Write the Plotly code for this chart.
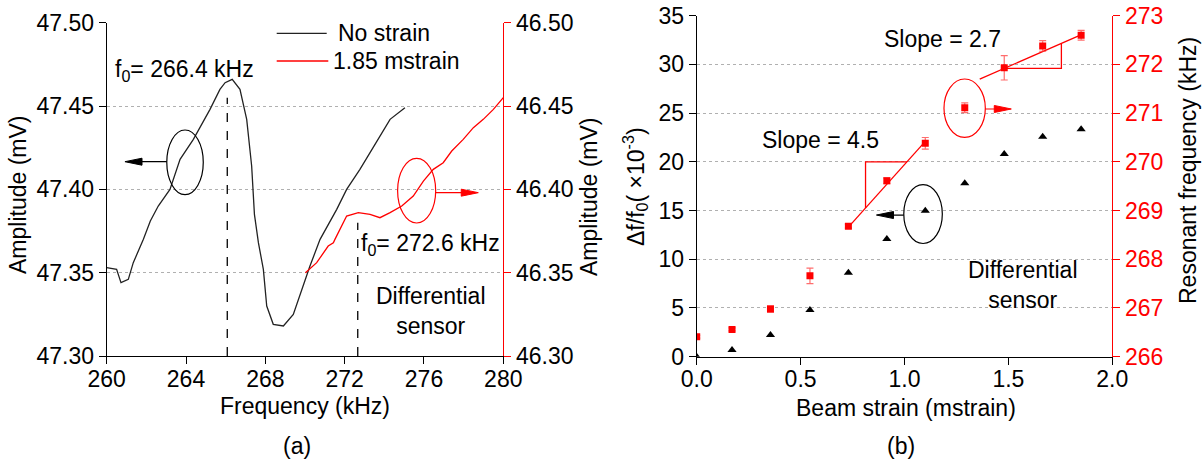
import plotly.graph_objects as go

# ---------------- Panel (a) data ----------------
nostrain_f = [260.0, 260.5, 260.72, 261.09, 261.34, 261.85, 262.2, 262.6, 263.19, 263.7, 264.37,
              265.21, 265.71, 265.97, 266.33, 266.72, 267.06, 267.31, 267.45, 267.65, 267.9,
              268.07, 268.4, 268.91, 269.41, 269.75, 270.25, 270.76, 271.26, 271.6, 272.1,
              272.77, 273.28, 273.78, 274.29, 275.04]
nostrain_a = [47.353, 47.352, 47.344, 47.346, 47.356, 47.370, 47.381, 47.390, 47.400, 47.418, 47.430,
              47.448, 47.460, 47.464, 47.466, 47.460, 47.442, 47.414, 47.385, 47.368, 47.352,
              47.330, 47.319, 47.318, 47.325, 47.337, 47.354, 47.370, 47.381, 47.388, 47.400,
              47.412, 47.422, 47.432, 47.442, 47.449]

strain_f = [270.02, 270.59, 271.17, 271.43, 271.51, 271.85, 272.1, 272.69, 273.28, 273.78, 274.29,
            274.88, 275.46, 275.97, 276.47, 276.97, 277.4, 277.98, 278.49, 278.99, 279.5, 280.0]
strain_a = [46.350, 46.356, 46.366, 46.368, 46.370, 46.378, 46.384, 46.386, 46.385, 46.383, 46.386,
            46.390, 46.396, 46.405, 46.412, 46.416, 46.423, 46.430, 46.437, 46.442, 46.448, 46.455]

# ---------------- Panel (b) data ----------------
beam_strain = [0, 0.17, 0.355, 0.545, 0.73, 0.915, 1.10, 1.29, 1.48, 1.665, 1.85]
dff = [0, 0.69, 2.23, 4.79, 8.62, 12.08, 14.99, 17.8, 20.8, 22.58, 23.34]
res_freq = [266.41, 266.56, 266.98, 267.66, 268.68, 269.61, 270.38, 271.11, 271.93, 272.38, 272.60]
res_err = [0.03, 0.03, 0.065, 0.16, 0.04, 0.06, 0.12, 0.10, 0.25, 0.11, 0.10]

fit1_x = [0.73, 1.10]
fit1_y = [268.66, 270.42]
fit2_x = [1.362, 1.846]
fit2_y = [271.70, 272.60]
tri1_x = [0.8125, 0.8125, 1.0117]
tri1_y = [269.05, 270.0, 270.0]
tri2_x = [1.479, 1.755, 1.755]
tri2_y = [271.92, 271.92, 272.43]

xticks_a = [260, 264, 268, 272, 276, 280]
FONT = "Liberation Sans, Arial, sans-serif"
FS = 23
RED = "#ff0000"

fig = go.Figure()

fig.add_trace(go.Scatter(x=nostrain_f, y=nostrain_a, mode="lines",
                         line=dict(color="#222222", width=1.3), xaxis="x", yaxis="y"))
fig.add_trace(go.Scatter(x=strain_f, y=strain_a, mode="lines",
                         line=dict(color=RED, width=1.3), xaxis="x", yaxis="y2"))

fig.add_trace(go.Scatter(x=beam_strain, y=dff, mode="markers",
                         marker=dict(symbol="triangle-up", size=8, color="black"),
                         xaxis="x3", yaxis="y3"))
fig.add_trace(go.Scatter(x=fit1_x, y=fit1_y, mode="lines", line=dict(color=RED, width=1.3),
                         xaxis="x3", yaxis="y4"))
fig.add_trace(go.Scatter(x=fit2_x, y=fit2_y, mode="lines", line=dict(color=RED, width=1.3),
                         xaxis="x3", yaxis="y4"))
fig.add_trace(go.Scatter(x=tri1_x, y=tri1_y, mode="lines", line=dict(color=RED, width=1.3),
                         xaxis="x3", yaxis="y4"))
fig.add_trace(go.Scatter(x=tri2_x, y=tri2_y, mode="lines", line=dict(color=RED, width=1.3),
                         xaxis="x3", yaxis="y4"))
fig.add_trace(go.Scatter(x=beam_strain, y=res_freq, mode="markers",
                         marker=dict(symbol="square", size=7, color=RED),
                         error_y=dict(type="data", array=res_err, color="rgba(255,60,60,0.75)",
                                      thickness=1.2, width=3.5),
                         xaxis="x3", yaxis="y4"))

axis_common = dict(showline=True, linewidth=1.2, ticks="outside", ticklen=7, tickwidth=1.2,
                   zeroline=False, automargin=False,
                   tickfont=dict(family=FONT, size=FS, color="black"))

W, H = 1202, 463
def px(x):
    return x / W
def py(y):
    return 1 - y / H

fig.update_layout(
    width=W, height=H, margin=dict(l=0, r=0, t=0, b=0, pad=0, autoexpand=False),
    paper_bgcolor="white", plot_bgcolor="white", showlegend=False,
    font=dict(family=FONT, size=FS, color="black"),
    xaxis=dict(domain=[px(106.7), px(503.3)], range=[260, 280], tickvals=xticks_a,
               anchor="y", linecolor="black", tickcolor="black", showgrid=False,
               ticklabelstandoff=-5, **axis_common),
    yaxis=dict(domain=[py(356), py(22.7)], range=[47.30, 47.50], dtick=0.05, tickformat=".2f",
               anchor="x", linecolor="black", tickcolor="black",
               showgrid=True, gridcolor="#b0b0b0", griddash="dot", gridwidth=1, **axis_common),
    yaxis2=dict(overlaying="y", side="right", anchor="x", range=[46.30, 46.50], dtick=0.05,
                tickformat=".2f", linecolor=RED, tickcolor=RED, showgrid=False, **axis_common),
    xaxis3=dict(domain=[px(696.7), px(1112.3)], range=[0, 2.0], dtick=0.5, tickformat=".1f",
                anchor="y3", linecolor="black", tickcolor="black", showgrid=False,
                ticklabelstandoff=-5, **axis_common),
    yaxis3=dict(domain=[py(356.7), py(15.7)], range=[0, 35], dtick=5, anchor="x3",
                linecolor="black", tickcolor="black",
                showgrid=True, gridcolor="#b0b0b0", griddash="dot", gridwidth=1, **axis_common),
    yaxis4=dict(overlaying="y3", side="right", anchor="x3", range=[266, 273], dtick=1,
                linecolor=RED, tickcolor=RED, showgrid=False,
                **{k: v for k, v in axis_common.items() if k != "tickfont"},
                tickfont=dict(family=FONT, size=FS, color=RED)),
)

shapes = []
# dashed f0 lines
shapes.append(dict(type="line", xref="x", yref="y", x0=266.08, x1=266.08, y0=47.30, y1=47.455,
                   line=dict(color="black", width=1.3, dash="dash")))
shapes.append(dict(type="line", xref="x", yref="y2", x0=272.66, x1=272.66, y0=46.30, y1=46.380,
                   line=dict(color="black", width=1.3, dash="dash")))
# ellipses panel (a)
shapes.append(dict(type="circle", xref="x", yref="y", x0=263.03, x1=264.87, y0=47.3968, y1=47.4356,
                   line=dict(color="black", width=1.2)))
shapes.append(dict(type="circle", xref="x", yref="y2", x0=274.67, x1=276.59, y0=46.3798, y1=46.4186,
                   line=dict(color=RED, width=1.2)))
# arrows panel (a)
shapes.append(dict(type="line", xref="x", yref="y", x0=263.03, x1=261.5, y0=47.4166, y1=47.4166,
                   line=dict(color="black", width=1.2)))
shapes.append(dict(type="path", xref="x", yref="y",
                   path="M 260.92,47.4166 L 261.78,47.4187 L 261.78,47.4145 Z",
                   fillcolor="black", line=dict(color="black", width=1)))
shapes.append(dict(type="line", xref="x", yref="y2", x0=276.59, x1=278.0, y0=46.398, y1=46.398,
                   line=dict(color=RED, width=1.2)))
shapes.append(dict(type="path", xref="x", yref="y2",
                   path="M 278.74,46.398 L 277.88,46.4001 L 277.88,46.3959 Z",
                   fillcolor=RED, line=dict(color=RED, width=1)))
# ellipses panel (b)
shapes.append(dict(type="circle", xref="x3", yref="y3", x0=0.9966, x1=1.182, y0=11.62, y1=17.67,
                   line=dict(color="black", width=1.2)))
shapes.append(dict(type="circle", xref="x3", yref="y4", x0=1.190, x1=1.389, y0=270.502, y1=271.701,
                   line=dict(color=RED, width=1.2)))
shapes.append(dict(type="line", xref="x3", yref="y3", x0=0.9966, x1=0.92, y0=14.54, y1=14.54,
                   line=dict(color="black", width=1.2)))
shapes.append(dict(type="path", xref="x3", yref="y3",
                   path="M 0.865,14.54 L 0.947,14.90 L 0.947,14.18 Z",
                   fillcolor="black", line=dict(color="black", width=1)))
shapes.append(dict(type="line", xref="x3", yref="y4", x0=1.389, x1=1.46, y0=271.085, y1=271.085,
                   line=dict(color=RED, width=1.2)))
shapes.append(dict(type="path", xref="x3", yref="y4",
                   path="M 1.514,271.085 L 1.432,271.157 L 1.432,271.013 Z",
                   fillcolor=RED, line=dict(color=RED, width=1)))
# legend lines
shapes.append(dict(type="line", xref="paper", yref="paper", x0=px(276.7), x1=px(326.7),
                   y0=py(33.3), y1=py(33.3), line=dict(color="#222222", width=1.3)))
shapes.append(dict(type="line", xref="paper", yref="paper", x0=px(276.7), x1=px(328.3),
                   y0=py(61), y1=py(61), line=dict(color=RED, width=1.3)))
fig.update_layout(shapes=shapes)

def ann(text, x, y, xanchor="left", yanchor="middle", angle=0, color="black", size=FS):
    return dict(text=text, x=px(x), y=py(y), xref="paper", yref="paper", showarrow=False,
                xanchor=xanchor, yanchor=yanchor, textangle=angle,
                font=dict(family=FONT, size=size, color=color))

anns = [
    ann("No strain", 336, 33),
    ann("1.85 mstrain", 331, 61),
    ann("f<sub>0</sub>= 266.4 kHz", 113, 70),
    ann("f<sub>0</sub>= 272.6 kHz", 359, 244),
    ann("Differential<br>sensor", 374, 311),
    ann("Amplitude (mV)", 18, 195, xanchor="center", angle=-90),
    ann("Amplitude (mV)", 589, 197, xanchor="center", angle=-90),
    ann("Frequency (kHz)", 305, 406, xanchor="center"),
    ann("(a)", 297, 446, xanchor="center"),
    ann("Slope = 4.5", 760, 140),
    ann("Slope = 2.7", 882, 39),
    ann("Differential<br>sensor", 966, 285),
    ann("Δf/f<sub>0</sub>( ×10<sup>-3</sup>)", 635, 187, xanchor="center", angle=-90),
    ann("Resonant frequency (kHz)", 1188, 171, xanchor="center", angle=-90),
    ann("Beam strain (mstrain)", 906, 408, xanchor="center"),
    ann("(b)", 901, 446, xanchor="center"),
]
fig.update_layout(annotations=anns)

fig.write_html("out.html", config={"displayModeBar": False},
               post_script="document.body.style.margin='0';document.body.style.padding='0';")
